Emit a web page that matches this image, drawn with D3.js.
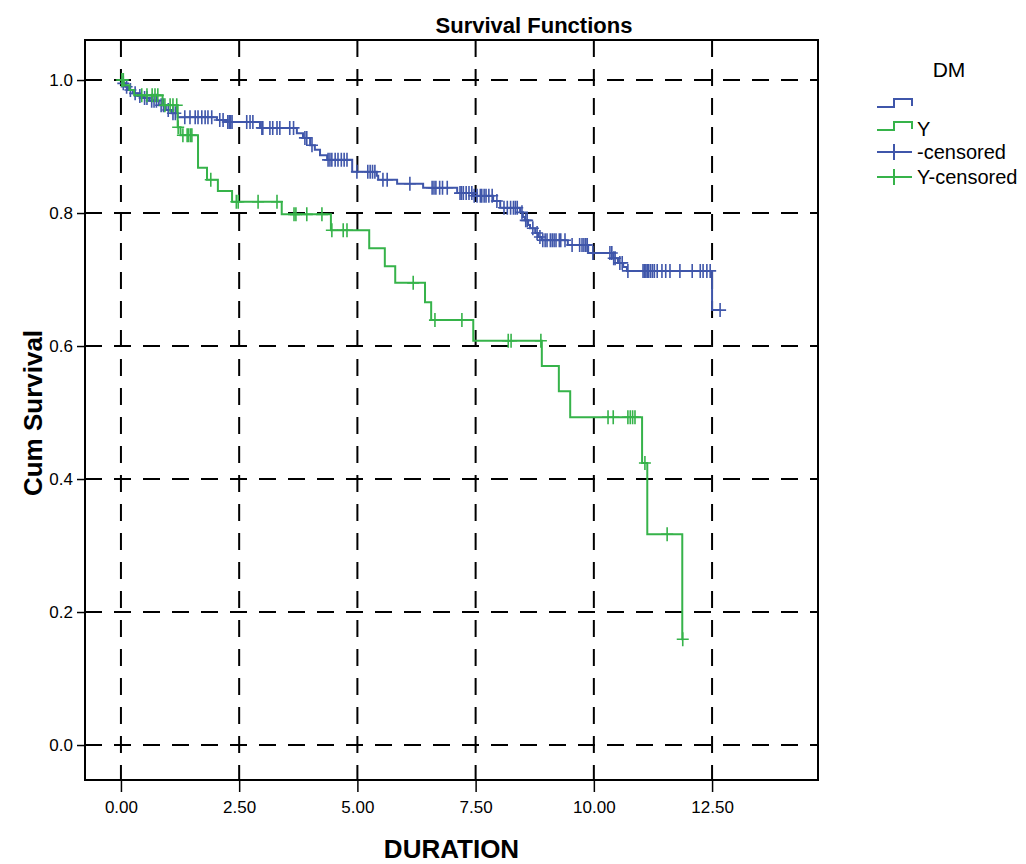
<!DOCTYPE html>
<html>
<head>
<meta charset="utf-8">
<script src="https://cdn.jsdelivr.net/npm/d3@7"></script>
<style>
  body { margin: 0; background: #fff; }
  svg { display: block; }
  text { font-family: "Liberation Sans", Arial, sans-serif; fill: #000; }
</style>
</head>
<body>
<svg id="chart" width="1026" height="864"></svg>
<script>
// Kaplan-Meier estimates by DM group: event times and survival after each event
const blueEventTimes = [0, 0.04, 0.10, 0.15, 0.25, 0.36, 0.47, 0.60, 0.80, 0.95, 1.07, 1.20,
  2.03, 2.24, 2.94, 3.72, 3.85, 4.00, 4.10, 4.21, 4.36, 4.89, 5.41, 5.44, 5.84, 6.39,
  7.11, 7.44, 7.87, 8.02, 8.44, 8.50, 8.54, 8.61, 8.65, 8.76, 8.82, 8.90, 9.45, 9.88,
  10.41, 10.51, 10.62, 10.70, 12.50];
const blueSurvival = [1.0, 0.995, 0.990, 0.985, 0.980, 0.976, 0.973, 0.969, 0.962, 0.955, 0.950, 0.944,
  0.940, 0.937, 0.928, 0.920, 0.913, 0.902, 0.895, 0.887, 0.880, 0.862, 0.856, 0.850, 0.844, 0.838,
  0.830, 0.826, 0.818, 0.808, 0.801, 0.794, 0.789, 0.782, 0.777, 0.770, 0.764, 0.759, 0.752, 0.740,
  0.732, 0.725, 0.719, 0.713, 0.654];
const blueCensored = [0.05, 0.12, 0.20, 0.30, 0.40, 0.50, 0.55, 0.65, 0.70, 0.75, 0.85, 0.90, 1.00, 1.10, 1.15,
  1.35, 1.46, 1.57, 1.63, 1.71, 1.78, 1.84, 1.92, 2.09, 2.16, 2.26, 2.29, 2.32, 2.35, 2.66, 2.73, 2.79,
  2.98, 3.00, 3.15, 3.21, 3.30, 3.36, 3.57, 3.65, 3.89, 3.93, 4.04, 4.38, 4.42, 4.46, 4.53, 4.59, 4.66,
  4.72, 4.78, 4.99, 5.22, 5.27, 5.32, 5.37, 5.54, 5.63, 6.11, 6.58, 6.62, 6.66, 6.74, 6.80, 6.90,
  7.17, 7.20, 7.24, 7.30, 7.36, 7.42, 7.47, 7.53, 7.60, 7.63, 7.68, 7.72, 7.78, 7.85, 7.95, 8.10, 8.17,
  8.24, 8.30, 8.34, 8.38, 8.48, 8.56, 8.59, 8.71, 8.80, 8.86, 8.92, 8.97, 9.01, 9.08, 9.12, 9.16, 9.20,
  9.27, 9.30, 9.39, 9.54, 9.70, 9.75, 9.79, 9.83, 9.86, 9.98, 10.34, 10.38, 10.42, 10.45, 10.55, 10.60,
  10.72, 11.04, 11.07, 11.10, 11.13, 11.16, 11.20, 11.24, 11.28, 11.34, 11.44, 11.52, 11.61, 11.82,
  12.08, 12.25, 12.31, 12.39, 12.46, 12.67];

const greenEventTimes = [0, 0.06, 0.18, 0.28, 0.88, 1.20, 1.26, 1.63, 1.82, 2.05, 2.35, 3.40, 4.44,
  5.25, 5.58, 5.80, 6.43, 6.56, 7.45, 8.90, 9.26, 9.50, 11.02, 11.13, 11.87];
const greenSurvival = [1.0, 0.992, 0.985, 0.977, 0.962, 0.929, 0.917, 0.868, 0.850, 0.833, 0.817, 0.798, 0.774,
  0.747, 0.720, 0.695, 0.666, 0.639, 0.608, 0.570, 0.532, 0.493, 0.424, 0.317, 0.159];
const greenCensored = [0.02, 0.05, 0.44, 0.55, 0.66, 0.72, 0.78, 0.93, 1.04, 1.10, 1.18, 1.21, 1.31, 1.40,
  1.43, 1.47, 1.50, 1.90, 2.44, 2.48, 2.90, 3.30, 3.66, 3.70, 3.93, 4.25, 4.46, 4.70, 4.78, 6.18, 6.64,
  7.21, 8.19, 8.25, 8.88, 10.30, 10.41, 10.72, 10.77, 10.82, 10.87, 11.08, 11.55, 11.88];

const xTicks = [0, 2.5, 5, 7.5, 10, 12.5];
const yTicks = [0, 0.2, 0.4, 0.6, 0.8, 1.0];
const groupLabels = ["", "Y"];
const censorLabels = ["-censored", "Y-censored"];

const BLUE = "#3f56aa";
const GREEN = "#36b34a";

const svg = d3.select("#chart");
const box = { left: 85, right: 818, top: 40, bottom: 780 };

const x = d3.scaleLinear().domain([-0.76, 14.74]).range([box.left, box.right]);
const y = d3.scaleLinear().domain([-0.0526, 1.0602]).range([box.bottom, box.top]);

// dashed reference grid
svg.append("g").selectAll("line").data(xTicks).join("line")
  .attr("x1", d => x(d)).attr("x2", d => x(d))
  .attr("y1", box.top).attr("y2", box.bottom)
  .attr("stroke", "#000").attr("stroke-width", 2).attr("stroke-dasharray", "17,12");
svg.append("g").selectAll("line").data(yTicks).join("line")
  .attr("y1", d => y(d)).attr("y2", d => y(d))
  .attr("x1", box.left).attr("x2", box.right)
  .attr("stroke", "#000").attr("stroke-width", 2).attr("stroke-dasharray", "17,12");

// axes
const xAxis = svg.append("g").attr("transform", `translate(0,${box.bottom})`)
  .call(d3.axisBottom(x).tickValues(xTicks).tickFormat(d3.format(".2f")).tickSize(12).tickSizeOuter(0).tickPadding(9));
const yAxis = svg.append("g").attr("transform", `translate(${box.left},0)`)
  .call(d3.axisLeft(y).tickValues(yTicks).tickFormat(d3.format(".1f")).tickSize(8).tickSizeOuter(0).tickPadding(4));
[xAxis, yAxis].forEach(g => {
  g.select(".domain").remove();
  g.selectAll(".tick line").attr("stroke", "#000").attr("stroke-width", 1.5);
  g.selectAll(".tick text").style("font-size", "17px").style("font-family", '"Liberation Sans", Arial, sans-serif').attr("fill", "#000");
});

// frame
svg.append("rect")
  .attr("x", box.left).attr("y", box.top)
  .attr("width", box.right - box.left).attr("height", box.bottom - box.top)
  .attr("fill", "none").attr("stroke", "#000").attr("stroke-width", 2);

// survival curves
function stepPoints(times, surv, censored) {
  const pts = times.map((t, i) => [t, surv[i]]);
  const lastT = Math.max(times[times.length - 1], d3.max(censored));
  pts.push([lastT, surv[surv.length - 1]]);
  return pts;
}
function survAt(times, surv, t) {
  const i = d3.bisectRight(times, t) - 1;
  return surv[Math.max(0, i)];
}
const line = d3.line().x(d => x(d[0])).y(d => y(d[1])).curve(d3.curveStepAfter);

const series = [
  { times: blueEventTimes, surv: blueSurvival, cens: blueCensored, color: BLUE },
  { times: greenEventTimes, surv: greenSurvival, cens: greenCensored, color: GREEN }
];

series.forEach(s => {
  svg.append("path")
    .attr("d", line(stepPoints(s.times, s.surv, s.cens)))
    .attr("fill", "none").attr("stroke", s.color).attr("stroke-width", 2);
  svg.append("g").selectAll("path").data(s.cens).join("path")
    .attr("d", t => {
      const cx = x(t), cy = y(survAt(s.times, s.surv, t));
      return `M${cx - 6},${cy}H${cx + 6}M${cx},${cy - 7}V${cy + 7}`;
    })
    .attr("fill", "none").attr("stroke", s.color).attr("stroke-width", 1.6);
});

// titles
svg.append("text").attr("x", 534).attr("y", 33).attr("text-anchor", "middle")
  .style("font-size", "22px").style("font-weight", "bold").text("Survival Functions");
svg.append("text").attr("x", (box.left + box.right) / 2).attr("y", 858).attr("text-anchor", "middle")
  .style("font-size", "26px").style("font-weight", "bold").text("DURATION");
svg.append("text").attr("transform", "translate(42,413) rotate(-90)").attr("text-anchor", "middle")
  .style("font-size", "26px").style("font-weight", "bold").text("Cum Survival");

// legend
const lg = svg.append("g");
lg.append("text").attr("x", 949).attr("y", 77).attr("text-anchor", "middle")
  .style("font-size", "21px").text("DM");
const stepRows = [
  { color: BLUE, label: groupLabels[0], yLow: 107, yHigh: 99 },
  { color: GREEN, label: groupLabels[1], yLow: 130, yHigh: 122 }
];
stepRows.forEach(r => {
  lg.append("path")
    .attr("d", `M877,${r.yLow}H894V${r.yHigh}H912V${r.yLow - 1}`)
    .attr("fill", "none").attr("stroke", r.color).attr("stroke-width", 2);
  lg.append("text").attr("x", 917).attr("y", r.yLow + 6).style("font-size", "20px").text(r.label);
});
const censRows = [
  { color: BLUE, label: censorLabels[0], cy: 152 },
  { color: GREEN, label: censorLabels[1], cy: 177 }
];
censRows.forEach(r => {
  lg.append("path")
    .attr("d", `M877,${r.cy}H912M894,${r.cy - 8}V${r.cy + 8}`)
    .attr("fill", "none").attr("stroke", r.color).attr("stroke-width", 2);
  lg.append("text").attr("x", 917).attr("y", r.cy + 7).style("font-size", "20px").text(r.label);
});
</script>
</body>
</html>
